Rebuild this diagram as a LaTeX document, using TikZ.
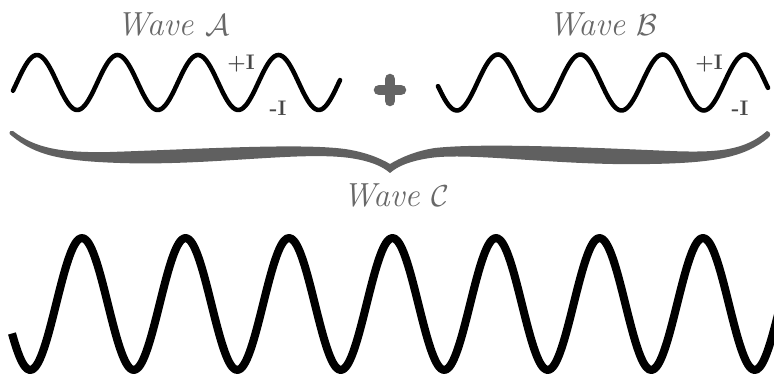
\documentclass[tikz,border=0pt]{standalone}
\usetikzlibrary{positioning, calc}
\usepackage{xcolor}
\usepackage{amsmath}
\definecolor{inkgrey}{RGB}{104,104,104}
\definecolor{bracegrey}{RGB}{96,96,96}
\definecolor{labgrey}{RGB}{70,70,70}
\definecolor{plusgrey}{RGB}{100,100,100}

\begin{document}
\begin{tikzpicture}[
      x=0.02cm, y=-0.02cm,
      title/.style={text=inkgrey, font=\fontsize{19}{21}\selectfont\itshape, inner sep=0pt, anchor=base},
      amp/.style={text=labgrey, font=\large\bfseries, inner sep=0pt},
      wave/.style={line width=2.6pt, line join=round, line cap=round},
      bigwave/.style={line width=4.6pt, line join=round}
    ]
    \useasboundingbox (0,0) rectangle (774,381);
    % the two small waves
    \node[title] (wa) at (173,36) {Wave $\mathcal{A}$};
    \node[title] (wb) at (603,36) {Wave $\mathcal{B}$};
    \draw[wave] plot[domain=13:340, samples=160, smooth] (\x, {82.5-27.5*cos(4.472*(\x-37))});
    \draw[wave] plot[domain=438:768, samples=160, smooth] (\x, {82.5-28*cos(4.3742*(\x-498))});
    \node[amp] (pa) at (241,64) {+I};
    \node[amp] (ma) at (278,108) {-I};
    \node[amp] (pb) at (709,64) {+I};
    \node[amp] (mb) at (740,108) {-I};
    % plus sign
    \draw[line width=6pt, line cap=round, draw=plusgrey] (379,90) -- (401,90) (390,79) -- (390,101);
    % brace
    \fill[bracegrey] (13,131) .. controls (35,148) and (60,153) .. (110,152)
      .. controls (200,149) and (300,143) .. (345,149)
      .. controls (365,152) and (380,158) .. (390,164)
      .. controls (400,158) and (415,151) .. (435,148)
      .. controls (480,143) and (580,147) .. (670,151)
      .. controls (720,153) and (745,150) .. (767,131)
      .. controls (771,132) and (771,136) .. (768,138)
      .. controls (745,157) and (715,163) .. (650,164)
      .. controls (560,166) and (470,152) .. (430,158)
      .. controls (410,161) and (398,166) .. (390,173)
      .. controls (382,166) and (370,161) .. (350,158)
      .. controls (300,151) and (210,166) .. (120,163)
      .. controls (60,161) and (35,155) .. (12,136)
      .. controls (8,134) and (9,130) .. (13,131) -- cycle;
    % the sum
    \node[title] (wc) at (396,207) {Wave $\mathcal{C}$};
    \draw[bigwave] plot[domain=12:780, samples=300, smooth] (\x, {304-66*cos(3.4783*(\x-82))});
  \end{tikzpicture}
\end{document}
